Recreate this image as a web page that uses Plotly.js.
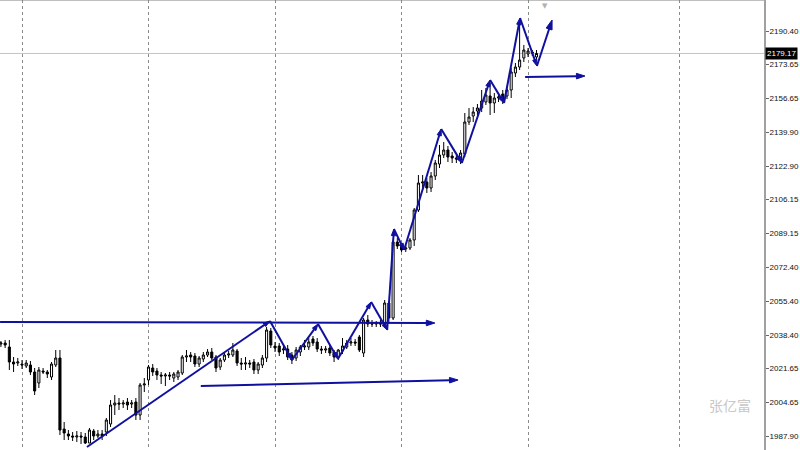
<!DOCTYPE html>
<html><head><meta charset="utf-8">
<script src="https://cdn.plot.ly/plotly-3.0.1.min.js"></script>
<style>html,body{margin:0;padding:0;background:#fff}#chart{width:800px;height:450px}</style>
</head><body><div id="chart"></div>
<script>
// H4 bars (XAUUSD)
const open = [2033.9,2034.4,2032.4,2024.9,2024.4,2023.9,2022.9,2023.4,2019.9,2014.4,2020.4,2019.9,2017.4,2023.4,2026.9,1991.4,1988.9,1987.9,1987.4,1987.9,1987.4,1984.4,1990.4,1987.9,1988.9,1989.9,1993.9,2003.4,2004.4,2003.9,2004.9,2003.9,2004.9,1998.4,2013.4,2015.9,2021.9,2020.4,2018.4,2017.9,2018.4,2016.9,2017.4,2019.4,2027.4,2028.4,2027.9,2023.9,2026.4,2028.4,2029.9,2027.4,2022.4,2025.9,2028.4,2028.4,2030.4,2024.4,2023.9,2024.4,2024.9,2020.9,2023.4,2026.9,2040.4,2032.9,2032.9,2030.9,2031.4,2028.4,2026.9,2029.9,2032.4,2032.4,2036.4,2034.9,2031.4,2030.9,2031.9,2029.9,2027.4,2030.4,2032.4,2034.4,2034.9,2037.4,2029.4,2045.9,2044.4,2043.9,2044.4,2044.4,2054.4,2046.9,2084.9,2082.9,2081.4,2081.9,2085.9,2100.9,2114.4,2114.9,2111.9,2117.9,2123.9,2128.4,2130.9,2127.9,2126.9,2125.9,2128.9,2144.9,2147.9,2150.4,2151.9,2154.9,2157.9,2154.4,2156.9,2158.9,2157.9,2160.9,2169.4,2172.4,2176.9,2178.9,2179.9,2177.4];
const high = [2035.4,2035.9,2035.9,2027.4,2026.9,2025.9,2025.9,2025.4,2021.9,2022.4,2021.9,2020.9,2024.9,2030.9,2030.9,1994.9,1990.9,1989.9,1990.4,1989.9,1989.4,1991.9,1991.4,1990.9,1990.9,1996.9,2005.9,2008.4,2006.9,2005.9,2006.9,2005.9,2006.9,2014.4,2016.9,2023.4,2023.9,2021.9,2019.9,2019.4,2019.9,2019.9,2020.9,2028.4,2030.9,2029.9,2029.4,2027.9,2029.9,2031.4,2031.9,2028.4,2026.9,2029.9,2030.4,2034.4,2031.4,2026.9,2027.4,2025.9,2026.4,2024.9,2028.4,2042.4,2041.9,2034.9,2034.4,2033.4,2033.4,2029.9,2032.4,2033.4,2035.9,2036.9,2037.9,2036.9,2032.9,2032.9,2033.4,2030.9,2031.4,2036.9,2035.9,2036.9,2036.4,2038.4,2046.9,2048.4,2045.9,2045.4,2045.9,2055.9,2055.4,2085.9,2086.9,2083.9,2083.4,2086.9,2101.9,2118.4,2118.4,2116.9,2119.9,2125.9,2133.4,2134.9,2132.9,2129.9,2128.4,2130.9,2149.4,2151.9,2152.4,2153.9,2160.9,2161.9,2164.4,2159.4,2159.4,2160.9,2162.9,2171.9,2174.4,2195.9,2183.4,2181.9,2180.9,2180.9];
const low = [2032.4,2031.9,2020.9,2019.9,2022.9,2021.4,2021.9,2018.4,2008.4,2011.9,2018.9,2016.9,2015.9,2022.4,1988.4,1985.9,1985.9,1985.4,1984.9,1983.9,1983.9,1984.4,1985.9,1986.9,1985.9,1987.9,1992.4,1998.4,2000.9,2001.9,2000.9,2001.9,1995.9,1995.9,2009.9,2013.4,2017.9,2015.9,2013.9,2012.9,2015.9,2014.9,2015.9,2018.4,2024.9,2024.9,2022.4,2022.4,2024.9,2027.4,2025.9,2019.9,2020.9,2024.9,2026.9,2027.4,2022.9,2020.9,2020.9,2021.9,2018.9,2018.9,2021.9,2024.9,2031.9,2029.9,2027.9,2028.9,2025.9,2023.9,2025.4,2027.9,2030.9,2030.9,2032.9,2029.9,2028.9,2029.4,2027.9,2024.9,2025.9,2028.9,2031.4,2032.9,2032.9,2029.9,2027.4,2042.4,2042.4,2042.4,2042.4,2043.4,2044.9,2045.9,2081.4,2079.9,2079.9,2080.9,2082.9,2099.9,2110.9,2109.4,2109.9,2115.9,2121.9,2126.9,2124.9,2124.4,2124.4,2123.9,2127.4,2143.4,2144.9,2148.4,2149.9,2153.4,2148.4,2149.4,2154.9,2153.9,2156.4,2156.9,2167.4,2170.9,2174.9,2177.4,2177.9,2175.9];
const close = [2034.4,2033.4,2024.9,2023.9,2024.9,2023.4,2024.4,2019.9,2010.4,2020.9,2019.9,2018.9,2023.9,2026.9,1990.9,1989.4,1987.9,1987.4,1987.9,1987.4,1984.4,1990.9,1987.9,1988.9,1987.9,1995.9,2003.4,2004.4,2003.9,2004.4,2003.4,2004.4,1998.4,2013.4,2013.9,2022.4,2019.9,2018.4,2017.9,2018.4,2017.9,2018.9,2019.9,2027.4,2027.9,2027.4,2023.9,2026.9,2028.4,2029.9,2026.9,2021.9,2025.9,2028.4,2028.9,2030.9,2024.4,2023.9,2024.4,2023.9,2020.9,2023.9,2026.9,2040.9,2033.4,2031.9,2029.9,2031.4,2027.4,2025.9,2030.9,2032.4,2032.9,2034.9,2034.4,2031.4,2030.9,2031.4,2029.4,2027.4,2030.9,2032.9,2034.4,2034.9,2034.4,2030.9,2045.9,2043.9,2043.9,2044.4,2043.9,2054.4,2046.9,2084.9,2082.9,2080.9,2081.9,2085.9,2100.9,2114.4,2114.9,2111.9,2117.9,2124.4,2128.4,2130.9,2127.4,2126.9,2126.4,2129.4,2144.9,2147.4,2149.9,2151.9,2155.4,2158.4,2154.4,2156.9,2157.4,2155.9,2160.9,2169.9,2172.4,2175.9,2180.9,2180.4,2179.4,2179.17];
const firstBar = -5;
const bars = open.map((_, i) => firstBar + i);

const priceTicks = [2190.40, 2173.65, 2156.65, 2139.90, 2122.90, 2106.15, 2089.15, 2072.40, 2055.40, 2038.40, 2021.65, 2004.65, 1987.90];
const priceTickText = ['2190.40', '2173.65', '2156.65', '2139.90', '2122.90', '2106.15', '2089.15', '2072.40', '2055.40', '2038.40', '2021.65', '2004.65', '1987.90'];
const gridBars = [0, 30, 60, 90, 120, 156];
const lastPrice = 2179.17;
const lastPriceText = '2179.17';
const watermark = '张亿富';

// hand-drawn analysis lines (bar number, price)
const zigzagBars = [15.4, 58.8, 64.0, 70.2, 74.9, 82.8, 86.6, 88.2, 90.6, 99.4, 104.3, 111.0, 114.3, 118.1, 122.1, 125.7];
const zigzagPrices = [1982.4, 2045.4, 2025.9, 2043.9, 2026.4, 2054.9, 2040.9, 2091.4, 2080.9, 2141.4, 2124.4, 2165.9, 2154.4, 2196.9, 2172.9, 2195.9];
const resistBars = [-5.2, 97.9];
const resistPrices = [2044.9, 2044.4];
const supportBars = [42.4, 103.4];
const supportPrices = [2012.9, 2015.9];
const targetBars = [119.3, 133.5];
const targetPrices = [2167.4, 2167.9];

const BLUE = '#10109e';
function arrowLine(xs, ys, tipSize, vertexSize) {
  const sizes = xs.map((_, i) => i === 0 ? 0 : (i === xs.length - 1 ? tipSize : vertexSize));
  return {
    type: 'scatter', mode: 'lines+markers', x: xs, y: ys, hoverinfo: 'skip', showlegend: false,
    line: {color: BLUE, width: 2},
    marker: {symbol: 'arrow', angleref: 'previous', size: sizes, color: BLUE, opacity: 1,
             line: {color: BLUE, width: 1}}
  };
}

const data = [
  {
    type: 'candlestick', x: bars, open: open, high: high, low: low, close: close,
    hoverinfo: 'skip', showlegend: false, whiskerwidth: 0,
    increasing: {line: {color: '#000', width: 1}, fillcolor: '#fff'},
    decreasing: {line: {color: '#000', width: 1}, fillcolor: '#000'}
  },
  arrowLine(resistBars, resistPrices, 9, 0),
  arrowLine(supportBars, supportPrices, 9, 0),
  arrowLine(targetBars, targetPrices, 9, 0),
  arrowLine(zigzagBars, zigzagPrices, 10, 7)
];

const FONT = 'Liberation Sans, Arial, sans-serif';
const layout = {
  width: 800, height: 450,
  margin: {l: 0, r: 36, t: 0, b: 0},
  paper_bgcolor: '#fff', plot_bgcolor: '#fff',
  showlegend: false, hovermode: false,
  xaxis: {
    range: [-5.217, 175.95], tickvals: gridBars, showticklabels: false, ticks: '',
    showgrid: true, gridcolor: '#8a8a8a', griddash: 'dot', gridwidth: 1,
    zeroline: false, showline: false, rangeslider: {visible: false}, fixedrange: true
  },
  yaxis: {
    side: 'right', range: [1980.9, 2205.9], tickvals: priceTicks, ticktext: priceTickText,
    showgrid: false, zeroline: false, showline: true, linecolor: '#a0a0a0', linewidth: 2,
    ticks: 'outside', ticklen: 3, tickcolor: '#666', tickwidth: 1,
    ticklabelstandoff: -1,
    tickfont: {family: FONT, size: 8, color: '#111'},
    fixedrange: true
  },
  shapes: [
    {type: 'line', xref: 'paper', x0: 0, x1: 1, yref: 'y', y0: lastPrice, y1: lastPrice,
     line: {color: '#c4c4c4', width: 1}, layer: 'below'},
    {type: 'line', xref: 'paper', x0: 0, x1: 1, yref: 'paper', y0: 1, y1: 1,
     line: {color: '#808080', width: 1}}
  ],
  annotations: [
    {xref: 'paper', x: 1, xanchor: 'left', xshift: 1, yref: 'y', y: lastPrice, yanchor: 'middle',
     text: lastPriceText, showarrow: false, bgcolor: '#000', borderpad: 1,
     font: {family: FONT, size: 8, color: '#fff'}},
    {xref: 'paper', x: 730 / 764, xanchor: 'center', yref: 'paper', y: 0.1, yanchor: 'middle',
     text: watermark, showarrow: false,
     font: {family: 'Noto Sans CJK SC, sans-serif', size: 14, color: '#c8c8c8'}},
    {xref: 'paper', x: 545 / 764, xanchor: 'center', yref: 'paper', y: 1, yanchor: 'top',
     text: '▼', showarrow: false, font: {family: 'DejaVu Sans', size: 7, color: '#b0b0b0'}}
  ]
};

Plotly.newPlot('chart', data, layout, {displayModeBar: false, staticPlot: true});
</script>
</body></html>
